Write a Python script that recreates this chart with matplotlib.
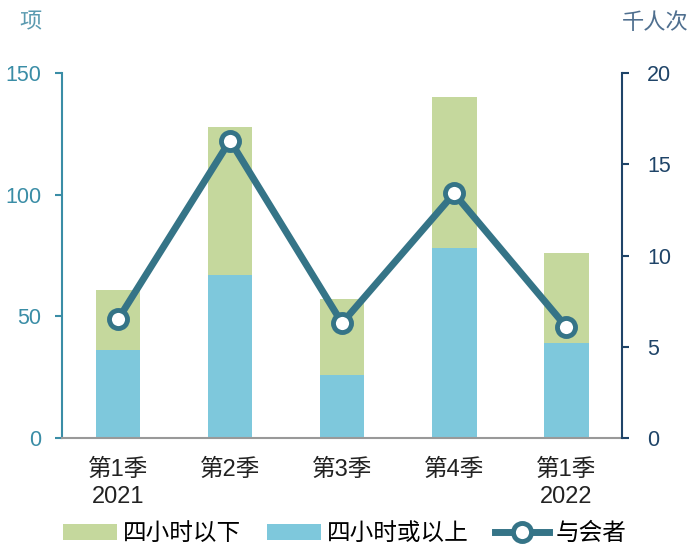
import matplotlib
matplotlib.use("Agg")
import matplotlib.pyplot as plt
import numpy as np

plt.rcParams['font.family'] = ['Liberation Sans', 'Noto Sans CJK SC', 'DejaVu Sans']

# データ
quarters = ["第1季\n2021", "第2季", "第3季", "第4季", "第1季\n2022"]
over4h = [36, 67, 26, 78, 39]      # 四小时或以上
under4h = [25, 61, 31, 62, 37]     # 四小时以下
attendees = [6.5, 16.3, 6.3, 13.4, 6.1]  # 与会者 (千人次)

c_green = "#C5D89D"
c_blue = "#7EC8DC"
c_line = "#357487"
c_left = "#3A8DA6"
c_right = "#1F4468"

fig = plt.figure(figsize=(6.89, 5.51), dpi=100)
ax = fig.add_axes([0.090, 0.205, 0.813, 0.6625])
x = np.arange(len(quarters))

ax.bar(x, over4h, width=0.4, color=c_blue, label="四小时或以上", zorder=2)
ax.bar(x, under4h, width=0.4, bottom=over4h, color=c_green, label="四小时以下", zorder=2)

ax.set_xlim(-0.5, len(quarters) - 0.5)
ax.set_ylim(0, 150)
ax.set_yticks([0, 50, 100, 150])
ax.set_xticks(x)
ax.set_xticklabels(quarters, fontsize=17, color="#222222", linespacing=1.3)
ax.tick_params(axis="x", length=0, pad=15)
ax.tick_params(axis="y", labelsize=15.5, colors=c_left, length=5, width=1.5, pad=10)
for s in ["top", "right"]:
    ax.spines[s].set_visible(False)
ax.spines["left"].set_color(c_left)
ax.spines["left"].set_linewidth(1.5)
ax.spines["bottom"].set_color("#999999")
ax.spines["bottom"].set_linewidth(1.5)

ax2 = ax.twinx()
ax2.plot(x, attendees, color=c_line, lw=5, marker="o", ms=13, mfc="white",
         mec=c_line, mew=3.5, label="与会者", zorder=3)
ax2.set_ylim(0, 20)
ax2.set_yticks([0, 5, 10, 15, 20])
ax2.tick_params(axis="y", labelsize=15.5, colors=c_right, length=5, width=1.5, pad=13)
for s in ["top", "left", "bottom"]:
    ax2.spines[s].set_visible(False)
ax2.spines["right"].set_color(c_right)
ax2.spines["right"].set_linewidth(1.5)

fig.text(0.044, 0.958, "项", fontsize=16, color="#5A9AB0", ha="center", va="center")
fig.text(0.951, 0.958, "千人次", fontsize=16, color="#4F6F8F", ha="center", va="center")

h1, l1 = ax.get_legend_handles_labels()
h2, l2 = ax2.get_legend_handles_labels()
fig.legend([h1[1], h1[0], h2[0]], [l1[1], l1[0], l2[0]], loc="lower center",
           bbox_to_anchor=(0.5, -0.028), ncol=3, frameon=False, fontsize=17,
           handlelength=2.3, handletextpad=0.25, columnspacing=1.1)

plt.savefig("out.png", dpi=100)
